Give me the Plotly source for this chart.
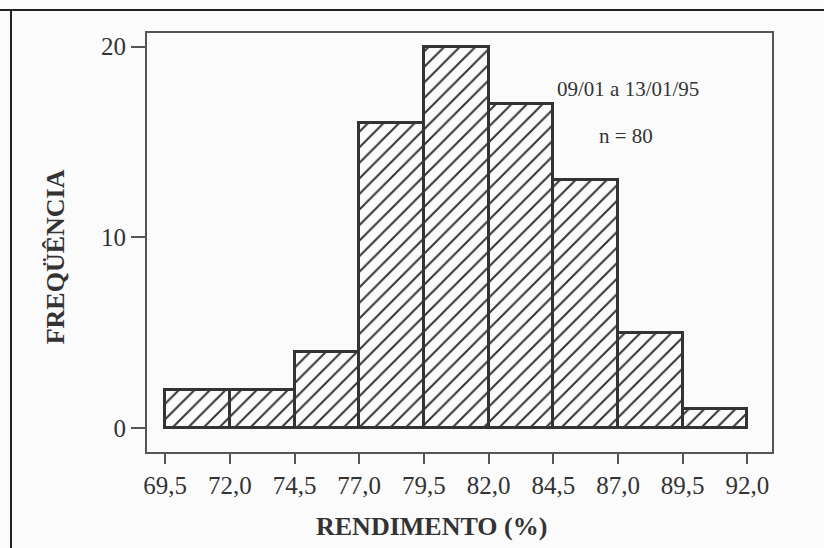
import plotly.graph_objects as go

# Class limits (yield, %) and observed frequencies
bin_edges = [69.5, 72.0, 74.5, 77.0, 79.5, 82.0, 84.5, 87.0, 89.5, 92.0]
frequencies = [2, 2, 4, 16, 20, 17, 13, 5, 1]
tick_labels = ["69,5", "72,0", "74,5", "77,0", "79,5", "82,0", "84,5", "87,0", "89,5", "92,0"]
y_ticks = [0, 10, 20]

centers = [(a + b) / 2 for a, b in zip(bin_edges[:-1], bin_edges[1:])]
widths = [b - a for a, b in zip(bin_edges[:-1], bin_edges[1:])]

ink = "#333333"
serif = "Liberation Serif, Times New Roman, serif"

fig = go.Figure(
    go.Bar(
        x=centers,
        y=frequencies,
        width=widths,
        marker=dict(
            color="#fbfbfb",
            line=dict(color=ink, width=3),
            pattern=dict(shape="/", size=11, solidity=0.18,
                         fgcolor=ink, bgcolor="#fbfbfb", fillmode="replace"),
        ),
        hoverinfo="x+y",
    )
)

fig.update_layout(
    width=824,
    height=548,
    margin=dict(l=147, r=52, t=33, b=96),
    paper_bgcolor="#fbfbfb",
    plot_bgcolor="#fbfbfb",
    bargap=0,
    showlegend=False,
    font=dict(family=serif, color=ink),
)

fig.update_xaxes(
    range=[68.8, 92.95],
    tickvals=bin_edges,
    ticktext=tick_labels,
    tickfont=dict(family=serif, size=25, color=ink),
    ticks="outside",
    ticklen=10,
    tickwidth=2,
    tickcolor="#555555",
    showline=True,
    linecolor="#555555",
    linewidth=2,
    mirror=True,
    showgrid=False,
    zeroline=False,
)

fig.update_yaxes(
    range=[-1.26, 20.71],
    tickvals=y_ticks,
    ticktext=[str(v) for v in y_ticks],
    tickfont=dict(family=serif, size=25, color=ink),
    ticks="outside",
    ticklen=14,
    tickwidth=2,
    tickcolor="#555555",
    showline=True,
    linecolor="#555555",
    linewidth=2,
    mirror=True,
    showgrid=False,
    zeroline=False,
)

# Axis titles
fig.add_annotation(
    text="<b>FREQÜÊNCIA</b>", xref="paper", yref="paper",
    x=-0.147, y=0.465, xanchor="center", yanchor="middle",
    textangle=-90, showarrow=False,
    font=dict(family=serif, size=26, color=ink),
)
fig.add_annotation(
    text="<b>RENDIMENTO (%)</b>", xref="paper", yref="paper",
    x=0.455, y=-0.178, xanchor="center", yanchor="middle",
    showarrow=False,
    font=dict(family=serif, size=26, color=ink),
)

# Period and sample size
fig.add_annotation(
    text="09/01 a 13/01/95", xref="x", yref="y",
    x=87.4, y=17.75, xanchor="center", yanchor="middle",
    showarrow=False, font=dict(family=serif, size=21, color=ink),
)
fig.add_annotation(
    text="n = 80", xref="x", yref="y",
    x=87.3, y=15.3, xanchor="center", yanchor="middle",
    showarrow=False, font=dict(family=serif, size=21, color=ink),
)

# Page border (top and left edges)
fig.add_shape(type="line", xref="paper", yref="paper",
              x0=-147 / 625, x1=1.1, y0=(548 - 96 - 10) / 419, y1=(548 - 96 - 10) / 419,
              line=dict(color="#222222", width=2))
fig.add_shape(type="line", xref="paper", yref="paper",
              x0=-136 / 625, x1=-136 / 625, y0=(548 - 96 - 10) / 419, y1=-0.3,
              line=dict(color="#222222", width=2))

fig.write_html("out.html")
